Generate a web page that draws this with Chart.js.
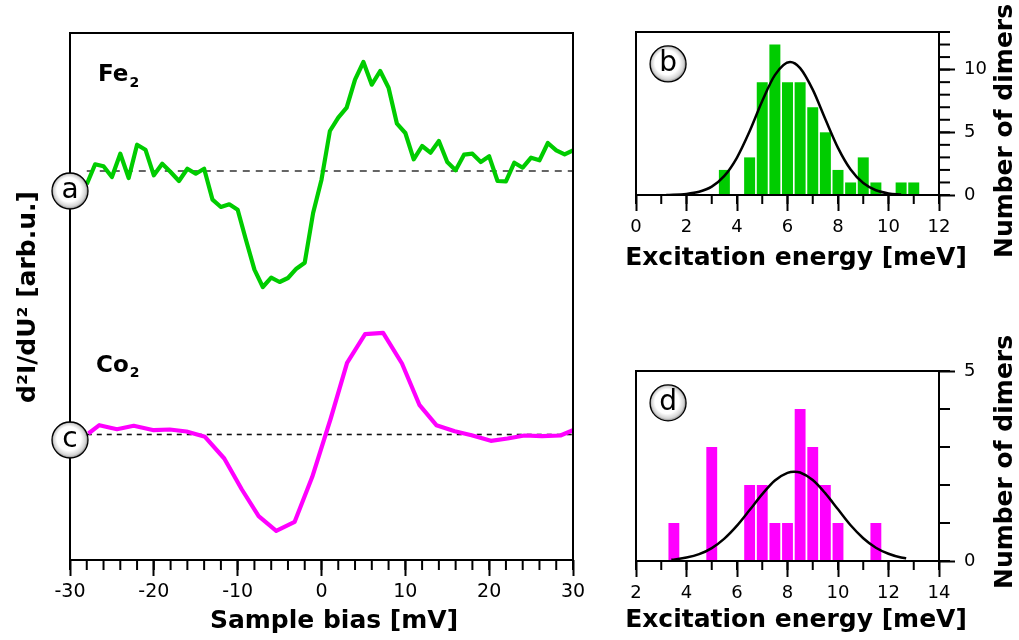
<!DOCTYPE html>
<html><head><meta charset="utf-8">
<script src="https://cdn.jsdelivr.net/npm/chart.js@4/dist/chart.umd.min.js"></script>
<style>
html,body{margin:0;padding:0;background:#fff;}
#wrap{position:relative;width:1019px;height:640px;overflow:hidden;background:#fff;}
canvas{position:absolute;}
</style></head><body>
<div id="wrap">
<canvas id="main" width="600" height="640" style="left:0;top:0"></canvas>
<canvas id="hb" width="419" height="320" style="left:600px;top:0"></canvas>
<canvas id="hd" width="419" height="320" style="left:600px;top:320px"></canvas>
</div>
<script>
// ---------- data ----------
const FE_BIAS = [-28,-27,-26,-25,-24,-23,-22,-21,-20,-19,-18,-17,-16,-15,-14,-13,-12,-11,-10,-9,-8,-7,-6,-5,-4,-3,-2,-1,0,1,2,3,4,5,6,7,8,9,10,11,12,13,14,15,16,17,18,19,20,21,22,23,24,25,26,27,28,29,30];
const FE_SIGNAL = [-1.33,0.67,0.47,-0.60,1.73,-0.70,2.63,2.13,-0.43,0.73,-0.10,-1.00,0.23,-0.27,0.23,-2.87,-3.60,-3.33,-3.87,-6.93,-9.87,-11.6,-10.67,-11.1,-10.7,-9.77,-9.17,-4.2,-0.87,4.0,5.33,6.33,9.13,10.9,8.63,10.0,8.33,4.73,3.8,1.17,2.5,1.83,3.0,0.9,0.07,1.63,1.73,0.9,1.47,-1.0,-1.03,0.83,0.33,1.33,1.07,2.8,2.07,1.67,2.07];
const CO_BIAS = [-27.8,-26.5,-24.4,-22.4,-20.0,-18.1,-16.1,-13.9,-11.6,-9.5,-7.5,-5.4,-3.2,-1.1,1.1,3.05,5.2,7.35,9.6,11.7,13.7,15.9,17.9,20.2,22.2,24.2,26.3,28.5,30];
const CO_SIGNAL = [0.10,0.93,0.53,0.87,0.43,0.50,0.30,-0.23,-2.4,-5.5,-8.17,-9.63,-8.73,-4.23,1.6,7.17,10.03,10.17,7.1,2.93,0.93,0.33,-0.07,-0.63,-0.40,-0.10,-0.17,-0.10,0.43];
const FE_OFFSET = 38.9;   // vertical offset of the Fe2 spectrum (arb.u.)
const CO_OFFSET = 12.55;  // vertical offset of the Co2 spectrum (arb.u.)
const BIAS_TICKS = [-30,-20,-10,0,10,20,30];

const FE_BIN_CENTERS = [3.5,4.5,5.0,5.5,6.0,6.5,7.0,7.5,8.0,8.5,9.0,9.5,10.5,11.0];
const FE_COUNTS = [2,3,9,12,9,9,7,5,2,1,3,1,1,1];
const FE_FIT_E = [1.2,2.0,2.5,3.0,3.5,4.0,4.5,5.0,5.5,6.1,6.5,7.0,7.5,8.0,8.5,9.0,9.5,10.0,10.5];
const FE_FIT_N = [0.01,0.09,0.26,0.67,1.52,2.99,5.08,7.49,9.56,10.6,10.12,8.40,6.04,3.76,2.03,0.95,0.38,0.13,0.04];
const FE_E_TICKS = [0,2,4,6,8,10,12];
const FE_N_TICKS = [0,5,10];

const CO_BIN_CENTERS = [3.5,5.0,6.5,7.0,7.5,8.0,8.5,9.0,9.5,10.0,11.5];
const CO_COUNTS = [1,3,2,2,1,1,4,3,2,1,1];
const CO_FIT_E = [3.4,4.0,4.5,5.0,5.5,6.0,6.5,7.0,7.5,8.0,8.26,8.5,9.0,9.5,10.0,10.5,11.0,11.5,12.0,12.5,12.7];
const CO_FIT_N = [0.03,0.09,0.18,0.34,0.59,0.93,1.34,1.76,2.12,2.32,2.35,2.33,2.13,1.78,1.36,0.94,0.60,0.35,0.19,0.09,0.07];
const CO_E_TICKS = [2,4,6,8,10,12,14];
const CO_N_TICKS = [0,5];

// ---------- styling ----------
const FONT = "'DejaVu Sans', sans-serif";
Chart.defaults.font.family = FONT;
Chart.defaults.color = '#000';
const GREEN = '#00cc00', MAGENTA = '#ff00ff';

const decor = {
  id: 'decor',
  afterDatasetsDraw(chart, args, o) {
    const {ctx, chartArea: a} = chart;
    ctx.save();
    ctx.strokeStyle = '#000';
    ctx.lineWidth = 2;
    ctx.strokeRect(a.left, a.top, a.right - a.left, a.bottom - a.top);
    (o.minor || []).forEach(m => {
      const s = chart.scales[m.axis];
      const n = Math.round((s.max - s.min) / m.step);
      for (let i = 0; i <= n; i++) {
        const p = s.getPixelForValue(s.min + i * m.step);
        ctx.beginPath();
        if (s.position === 'bottom') { ctx.moveTo(p, a.bottom); ctx.lineTo(p, a.bottom + m.len); }
        else { ctx.moveTo(a.right, p); ctx.lineTo(a.right + m.len, p); }
        ctx.stroke();
      }
    });
    ctx.restore();
  },
  afterDraw(chart, args, o) {
    const ctx = chart.ctx;
    ctx.save();
    (o.circles || []).forEach(c => {
      const x = chart.scales.x.getPixelForValue(c.x);
      const y = chart.scales.y.getPixelForValue(c.y);
      const r = 18;
      const g = ctx.createRadialGradient(x - 3, y - 4, 1, x, y, r);
      g.addColorStop(0, '#ffffff');
      g.addColorStop(0.65, '#ffffff');
      g.addColorStop(0.88, '#d4d4d4');
      g.addColorStop(1, '#808080');
      ctx.beginPath(); ctx.arc(x, y, r, 0, Math.PI * 2);
      ctx.fillStyle = g; ctx.fill();
      ctx.lineWidth = 1.3; ctx.strokeStyle = '#000'; ctx.stroke();
      ctx.fillStyle = '#000';
      ctx.font = '28px ' + FONT;
      ctx.textAlign = 'center'; ctx.textBaseline = 'middle';
      ctx.fillText(c.label, x, y + (c.dy || 0));
    });
    (o.texts || []).forEach(t => {
      ctx.save();
      ctx.fillStyle = '#000';
      ctx.font = t.font;
      ctx.translate(t.x, t.y);
      if (t.rotate) ctx.rotate(-Math.PI / 2);
      ctx.textAlign = t.align || 'center';
      ctx.textBaseline = t.baseline || 'middle';
      ctx.fillText(t.text, 0, 0);
      if (t.sub) {
        const w = ctx.measureText(t.text).width;
        ctx.font = t.subFont;
        ctx.textAlign = 'left';
        ctx.fillText(t.sub, w + 1, t.subDy);
      }
      ctx.restore();
    });
    ctx.restore();
  }
};

function tickGrid() {
  return {display: true, drawOnChartArea: false, drawTicks: true, tickLength: 16, tickWidth: 2, tickColor: '#000'};
}
function fixedTicks(arr) { return s => { s.ticks = arr.map(v => ({value: v})); }; }

// ---------- main spectra chart ----------
new Chart(document.getElementById('main'), {
  type: 'line',
  data: {
    datasets: [
      {data: FE_BIAS.map((b, i) => ({x: b, y: FE_OFFSET + FE_SIGNAL[i]})), borderColor: GREEN, borderWidth: 4.2, pointRadius: 0, tension: 0, borderJoinStyle: 'round', order: 0},
      {data: CO_BIAS.map((b, i) => ({x: b, y: CO_OFFSET + CO_SIGNAL[i]})), borderColor: MAGENTA, borderWidth: 4.2, pointRadius: 0, tension: 0, borderJoinStyle: 'round', order: 0},
      {data: [{x: -28, y: FE_OFFSET}, {x: 30, y: FE_OFFSET}], borderColor: '#333', borderWidth: 1.6, borderDash: [7, 6], pointRadius: 0, order: 1},
      {data: [{x: -28, y: CO_OFFSET}, {x: 30, y: CO_OFFSET}], borderColor: '#111', borderWidth: 1.6, borderDash: [5, 5], pointRadius: 0, order: 1}
    ]
  },
  options: {
    responsive: false, animation: false, devicePixelRatio: 1,
    layout: {padding: {left: 70, right: 27, top: 33, bottom: 0}},
    plugins: {
      legend: {display: false}, tooltip: {enabled: false},
      decor: {
        minor: [{axis: 'x', step: 2, len: 10}],
        circles: [{x: -30, y: 36.9, label: 'a'}, {x: -30, y: 12.0, label: 'c'}],
        texts: [
          {text: 'Sample bias [mV]', x: 334, y: 621, font: 'bold 25px ' + FONT},
          {text: 'd²I/dU² [arb.u.]', x: 28, y: 297, font: 'bold 25px ' + FONT, rotate: true},
          {text: 'Fe', x: 98, y: 81, font: 'bold 23px ' + FONT, align: 'left', baseline: 'alphabetic', sub: '2', subFont: 'bold 14px ' + FONT, subDy: 6},
          {text: 'Co', x: 96, y: 372, font: 'bold 23px ' + FONT, align: 'left', baseline: 'alphabetic', sub: '2', subFont: 'bold 14px ' + FONT, subDy: 5}
        ]
      }
    },
    scales: {
      x: {
        type: 'linear', min: -30, max: 30,
        afterBuildTicks: fixedTicks(BIAS_TICKS),
        afterFit: s => { s.height = 80; },
        grid: tickGrid(), border: {display: false},
        ticks: {font: {size: 19}, color: '#000', padding: 5, maxRotation: 0, autoSkip: false}
      },
      y: {type: 'linear', min: 0, max: 52.7, display: false}
    }
  },
  plugins: [decor]
});

// ---------- histogram helper ----------
function histogram(id, centers, counts, fitE, fitN, color, eMin, eMax, nMax, eTicks, nTicks, pad, circle, texts, barPct) {
  new Chart(document.getElementById(id), {
    type: 'bar',
    data: {
      datasets: [
        {type: 'line', data: fitE.map((e, i) => ({x: e, y: fitN[i]})), borderColor: '#000', borderWidth: 2.5, pointRadius: 0, cubicInterpolationMode: 'monotone', order: 0},
        {type: 'bar', data: centers.map((c, i) => ({x: c, y: counts[i]})), backgroundColor: color, borderWidth: 0, categoryPercentage: 1, barPercentage: barPct, order: 1}
      ]
    },
    options: {
      responsive: false, animation: false, devicePixelRatio: 1,
      layout: {padding: pad},
      plugins: {
        legend: {display: false}, tooltip: {enabled: false},
        decor: {
          minor: [{axis: 'x', step: 1, len: 9}, {axis: 'y', step: 1, len: 11}],
          circles: [circle],
          texts: texts
        }
      },
      scales: {
        x: {
          type: 'linear', min: eMin, max: eMax, offset: false,
          afterBuildTicks: fixedTicks(eTicks),
          afterFit: s => { s.height = 40; },
          grid: Object.assign(tickGrid(), {offset: false}), border: {display: false},
          ticks: {font: {size: 18}, color: '#000', padding: 6, maxRotation: 0, autoSkip: false}
        },
        y: {
          type: 'linear', position: 'right', min: 0, max: nMax,
          afterBuildTicks: fixedTicks(nTicks),
          afterFit: s => { s.width = 50; },
          grid: tickGrid(), border: {display: false},
          ticks: {font: {size: 18}, color: '#000', padding: 9, autoSkip: false}
        }
      }
    },
    plugins: [decor]
  });
}

histogram('hb', FE_BIN_CENTERS, FE_COUNTS, FE_FIT_E, FE_FIT_N, GREEN, 0, 12, 13, FE_E_TICKS, FE_N_TICKS,
  {left: 36, right: 30, top: 32, bottom: 85},
  {x: 1.27, y: 10.45, label: 'b'},
  [{text: 'Excitation energy [meV]', x: 196, y: 258, font: 'bold 25px ' + FONT},
   {text: 'Number of dimers', x: 405, y: 131, font: 'bold 25px ' + FONT, rotate: true}], 0.87);

histogram('hd', CO_BIN_CENTERS, CO_COUNTS, CO_FIT_E, CO_FIT_N, MAGENTA, 2, 14, 5, CO_E_TICKS, CO_N_TICKS,
  {left: 36, right: 30, top: 51, bottom: 39},
  {x: 3.27, y: 4.16, label: 'd'},
  [{text: 'Excitation energy [meV]', x: 196, y: 300, font: 'bold 25px ' + FONT},
   {text: 'Number of dimers', x: 405, y: 142, font: 'bold 25px ' + FONT, rotate: true}], 0.86);
</script>
</body></html>
